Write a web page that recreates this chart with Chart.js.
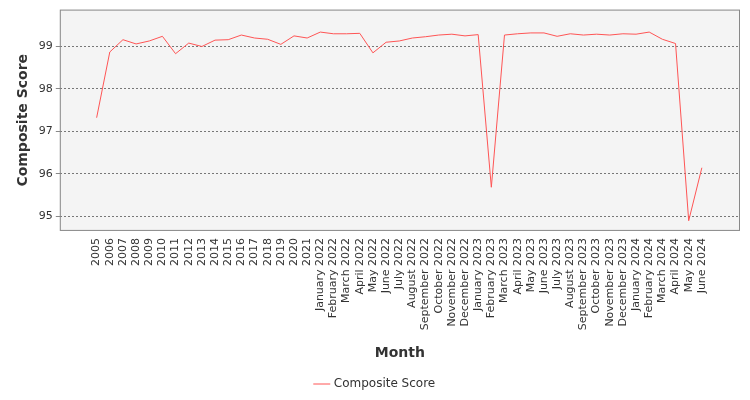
<!DOCTYPE html>
<html>
<head>
<script src="https://cdn.jsdelivr.net/npm/chart.js@4"></script>
<style>body{margin:0;background:#fff}#c{width:750px;height:400px}</style>
</head>
<body>
<div id="c"><canvas id="chart" width="750" height="400"></canvas></div>
<script>
const months = ['2005','2006','2007','2008','2009','2010','2011','2012','2013','2014','2015','2016','2017','2018','2019','2020','2021',
  'January 2022','February 2022','March 2022','April 2022','May 2022','June 2022','July 2022','August 2022','September 2022','October 2022','November 2022','December 2022',
  'January 2023','February 2023','March 2023','April 2023','May 2023','June 2023','July 2023','August 2023','September 2023','October 2023','November 2023','December 2023',
  'January 2024','February 2024','March 2024','April 2024','May 2024','June 2024'];
const scores = [97.32,98.87,99.16,99.06,99.13,99.24,98.83,99.08,99.0,99.15,99.16,99.27,99.2,99.17,99.05,99.25,99.2,
  99.34,99.3,99.3,99.31,98.85,99.1,99.13,99.2,99.23,99.27,99.29,99.25,
  99.28,95.68,99.27,99.3,99.32,99.32,99.24,99.3,99.27,99.29,99.27,99.3,
  99.29,99.34,99.17,99.07,94.89,96.14];
const yTicks = [95,96,97,98,99];

const plotBg = {
  id: 'plotBg',
  beforeDraw(chart) {
    const {ctx, chartArea: a} = chart;
    ctx.save();
    ctx.fillStyle = '#f4f4f4';
    ctx.fillRect(a.left, a.top, a.width, a.height);
    ctx.restore();
  },
  afterDraw(chart) {
    const {ctx, chartArea: a} = chart;
    ctx.save();
    ctx.strokeStyle = '#888';
    ctx.lineWidth = 1;
    ctx.strokeRect(a.left + 0.5, a.top + 0.5, a.width - 1, a.height - 1);
    ctx.restore();
  }
};

new Chart(document.getElementById('chart'), {
  type: 'line',
  data: {
    datasets: [{
      label: 'Composite Score',
      data: scores.map((v, i) => ({x: i, y: v})),
      borderColor: '#ff5555',
      backgroundColor: '#ff5555',
      borderWidth: 1,
      pointRadius: 0,
      tension: 0
    }]
  },
  options: {
    responsive: false,
    animation: false,
    layout: {padding: {left: 11, right: 10, top: 4, bottom: 0}},
    plugins: {
      legend: {
        position: 'bottom',
        labels: {
          font: {family: 'DejaVu Sans', size: 12}, color: '#333', padding: 8,
          usePointStyle: true, pointStyle: 'line', boxWidth: 16
        }
      }
    },
    scales: {
      x: {
        type: 'linear', min: -2.8, max: 48.9,
        afterBuildTicks: s => { s.ticks = months.map((m, i) => ({value: i})); },
        ticks: {
          autoSkip: false, maxRotation: 90, minRotation: 90,
          font: {family: 'DejaVu Sans', size: 11}, color: '#333',
          callback: v => months[v]
        },
        grid: {display: false, drawTicks: true, tickLength: 4},
        border: {display: false},
        title: {display: true, text: 'Month', padding: {top: 12, bottom: 8}, font: {family: 'DejaVu Sans', size: 14, weight: 'bold'}, color: '#333'}
      },
      y: {
        min: 94.65, max: 99.87,
        afterBuildTicks: s => { s.ticks = yTicks.map(v => ({value: v})); },
        ticks: {font: {family: 'DejaVu Sans', size: 11}, color: '#333'},
        grid: {color: '#777', borderDash: [2, 2], drawTicks: true, tickLength: 4, tickColor: '#888'},
        border: {display: false, dash: [2, 2]},
        title: {display: true, text: 'Composite Score', font: {family: 'DejaVu Sans', size: 14, weight: 'bold'}, color: '#333'}
      }
    }
  },
  plugins: [plotBg]
});
</script>
</body>
</html>
